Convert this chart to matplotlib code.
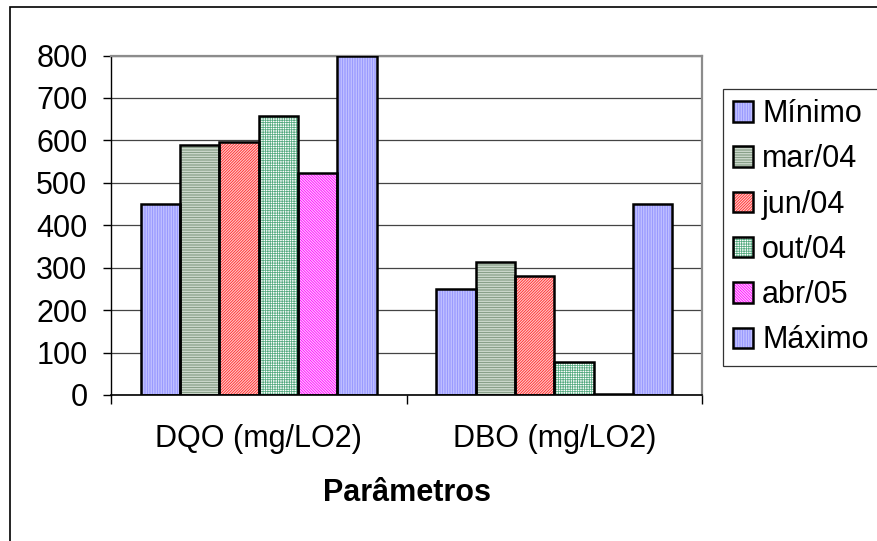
import numpy as np
import matplotlib
matplotlib.use("Agg")
import matplotlib.pyplot as plt
from matplotlib.patches import Patch, Rectangle
from matplotlib.legend_handler import HandlerTuple

# Data
categories = ["DQO (mg/LO2)", "DBO (mg/LO2)"]
series_names = ["Mínimo", "mar/04", "jun/04", "out/04", "abr/05", "Máximo"]
minimo = [450, 250]
mar04 = [590, 313]
jun04 = [595, 280]
out04 = [657, 77]
abr05 = [523, 3]
maximo = [800, 450]
yticks = [0, 100, 200, 300, 400, 500, 600, 700, 800]

# Excel-like pattern fills: (face, hatch colour, hatch)
styles = [
    ("#ccccff", "#8c8cff", "|" * 10),
    ("#e2eae2", "#6f8a6f", "-" * 10),
    ("#ffc8c8", "#ff2020", "/" * 12),
    ("#ffffff", "#55aa80", "+" * 7),
    ("#ffc0ff", "#ff00ff", "\\" * 12),
    ("#ccccff", "#8c8cff", "|" * 10),
]

plt.rcParams['font.family'] = ['Liberation Sans', 'DejaVu Sans']
plt.rcParams['hatch.linewidth'] = 0.55

FS = 22

fig = plt.figure(figsize=(8.77, 5.41), dpi=100)
ax = fig.add_axes([111 / 877, 1 - 395 / 541, (702 - 111) / 877, (395 - 55.5) / 541])

values = [minimo, mar04, jun04, out04, abr05, maximo]
x = np.arange(len(categories))
width = 0.133
handles = []
for i, (name, vals) in enumerate(zip(series_names, values)):
    face, hcol, hatch = styles[i]
    pos = x + (i - 2.5) * width
    # pattern layer (hatch colour comes from edgecolor)
    ax.bar(pos, vals, width, color=face, edgecolor=hcol, hatch=hatch, linewidth=0, zorder=2)
    # black outline layer
    ax.bar(pos, vals, width, facecolor="none", edgecolor="black", linewidth=1.8, zorder=3)
    h1 = Patch(facecolor=face, edgecolor=hcol, hatch=hatch, linewidth=0)
    h2 = Patch(facecolor="none", edgecolor="black", linewidth=1.8)
    handles.append((h1, h2))

ax.set_xlim(-0.5, 1.5)
ax.set_ylim(0, 800)
ax.set_yticks(yticks)
ax.set_xticks(x)
ax.set_xticklabels(categories)
ax.set_xticks([-0.5, 0.5, 1.5], minor=True)
ax.tick_params(axis="x", which="major", length=0, pad=21, labelsize=FS)
ax.tick_params(axis="x", which="minor", length=6.5, width=1, direction="out")
ax.tick_params(axis="y", length=6, width=1, direction="out", pad=11, labelsize=FS)

ax.yaxis.grid(True, color="#444444", linewidth=0.9, zorder=0)
ax.set_axisbelow(True)
ax.spines["top"].set_color("#8c8c8c")
ax.spines["top"].set_linewidth(1.6)
ax.spines["right"].set_color("#8c8c8c")
ax.spines["right"].set_linewidth(1.6)
ax.spines["left"].set_linewidth(1)
ax.spines["bottom"].set_linewidth(1.2)

fig.text(407 / 877, 1 - 493 / 541, "Parâmetros", ha="center", va="center",
         fontsize=FS, fontweight="bold")

leg = fig.legend(handles, series_names,
                 handler_map={tuple: HandlerTuple(ndivide=1, pad=0)},
                 loc="upper left", bbox_to_anchor=(723 / 877, 1 - 89 / 541),
                 fontsize=FS, frameon=True, fancybox=False, shadow=False,
                 handlelength=0.65, handleheight=0.65, handletextpad=0.3,
                 labelspacing=0.50, borderpad=0.33, borderaxespad=0)
leg.get_frame().set_edgecolor("black")
leg.get_frame().set_linewidth(0.9)

# outer chart border
fig.patches.append(Rectangle((10 / 877, -0.1), 1.2, 1.1 - 7 / 541,
                             transform=fig.transFigure, fill=False,
                             edgecolor="black", linewidth=1.2))

fig.savefig("out.png", dpi=100)
